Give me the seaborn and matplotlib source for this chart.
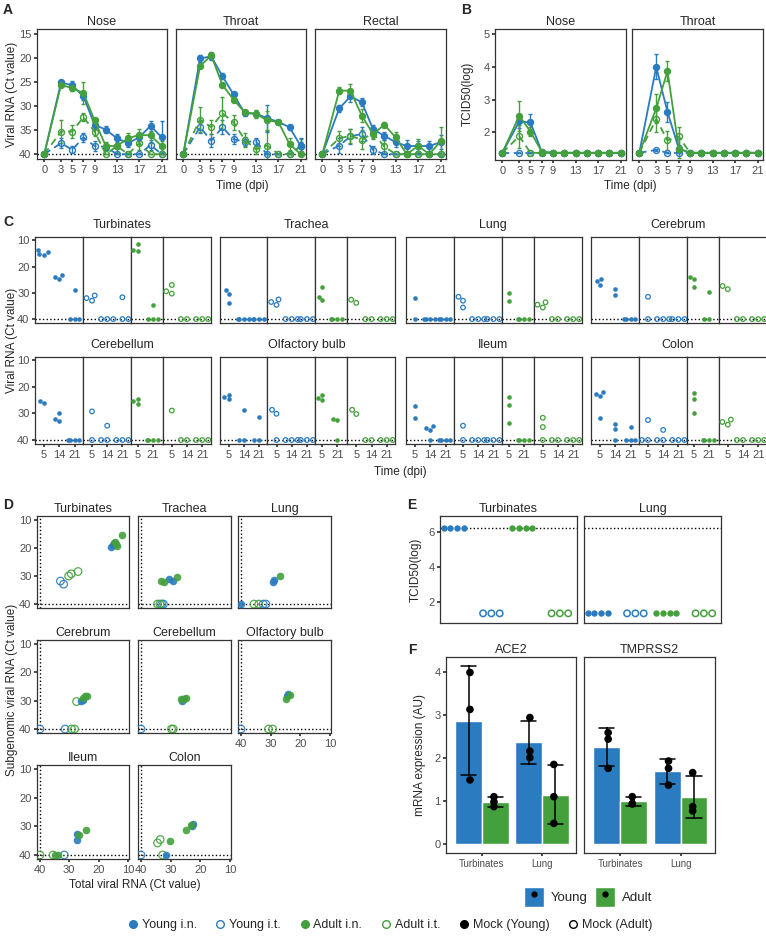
import warnings

import numpy as np
import pandas as pd
import matplotlib
matplotlib.use("Agg")
import matplotlib.pyplot as plt
from matplotlib.lines import Line2D
from matplotlib.patches import Patch
from matplotlib.legend_handler import HandlerTuple
import seaborn as sns

warnings.filterwarnings("ignore")

##################################################################################################
# Data
BLUE = "#2A7BC0"
GREEN = "#44A03C"
GROUPS = ["Young i.n.", "Young i.t.", "Adult i.n.", "Adult i.t."]
GCOL = {"Young i.n.": BLUE, "Young i.t.": BLUE, "Adult i.n.": GREEN, "Adult i.t.": GREEN}

DAYS = [0, 3, 5, 7, 9, 11, 13, 15, 17, 19, 21]
DAY_TICKS = [0, 3, 5, 7, 9, 13, 17, 21]

# A: viral RNA (Ct), mean and SD
nose_ct = {
    "Young i.n.": [40, 25.1, 25.7, 28.0, 33.9, 34.9, 36.7, 37.7, 36.5, 34.1, 36.5],
    "Young i.t.": [40, 37.7, 39.1, 36.5, 38.3, 38.5, 40, 40, 40, 38.1, 40],
    "Adult i.n.": [40, 25.6, 26.3, 27.3, 33.0, 38.3, 38.3, 36.7, 36.0, 36.1, 38.3],
    "Adult i.t.": [40, 35.3, 35.3, 32.3, 35.3, 40, 38.3, 40, 37.7, 40, 40],
}
nose_sd = {
    "Young i.n.": [0, 0.4, 0.8, 0.8, 0.8, 0.8, 0.8, 0.8, 0.8, 1.0, 3.3],
    "Young i.t.": [0, 1.0, 0.7, 1.0, 1.0, 0.7, 0, 0, 0, 1.0, 0],
    "Adult i.n.": [0, 0.3, 0.6, 2.3, 0.6, 0.8, 1.5, 1.2, 1.2, 1.5, 1.0],
    "Adult i.t.": [0, 2.3, 1.3, 0.8, 1.0, 0, 1.5, 0, 1.5, 0, 0],
}
throat_ct = {
    "Young i.n.": [40, 20.1, 19.7, 23.8, 27.6, 31.5, 31.6, 32.5, 33.3, 34.4, 38.3],
    "Young i.t.": [40, 34.4, 37.2, 34.4, 36.9, 37.4, 37.4, 40, 40, 40, 38.4],
    "Adult i.n.": [40, 21.7, 19.5, 25.6, 28.7, 31.3, 31.6, 33.0, 33.3, 37.9, 40],
    "Adult i.t.": [40, 32.8, 34.4, 31.5, 33.4, 37.0, 39.0, 38.2, 40, 40, 38.3],
}
throat_sd = {
    "Young i.n.": [0, 0.8, 0.8, 0.6, 0.6, 0.5, 0.5, 2.8, 0.3, 0.5, 1.6],
    "Young i.t.": [0, 1.3, 1.3, 1.5, 1.0, 1.0, 0.8, 0, 0, 0, 1.0],
    "Adult i.n.": [0, 0.5, 0.8, 0.4, 0.4, 0.5, 0.8, 2.0, 0.3, 1.3, 0],
    "Adult i.t.": [0, 2.5, 1.5, 3.3, 1.5, 1.5, 1.0, 3.0, 0, 0, 1.5],
}
rectal_ct = {
    "Young i.n.": [40, 30.5, 28.0, 29.2, 34.8, 36.2, 37.5, 38.3, 38.3, 38.3, 37.5],
    "Young i.t.": [40, 38.2, 36.3, 35.8, 39.1, 40, 40, 40, 40, 40, 40],
    "Adult i.n.": [40, 26.8, 26.8, 32.0, 35.8, 33.9, 36.5, 40, 38.3, 40, 37.3],
    "Adult i.t.": [40, 36.7, 36.2, 37.0, 35.6, 38.4, 40, 40, 40, 40, 40],
}
rectal_sd = {
    "Young i.n.": [0, 0.7, 1.2, 0.8, 0.8, 0.8, 1.0, 1.2, 1.0, 1.0, 1.5],
    "Young i.t.": [0, 1.5, 1.5, 1.5, 0.8, 0, 0, 0, 0, 0, 0],
    "Adult i.n.": [0, 0.7, 1.3, 1.3, 1.0, 0.5, 1.2, 0, 1.5, 0, 3.0],
    "Adult i.t.": [0, 1.5, 1.5, 2.0, 1.0, 1.3, 0, 0, 0, 0, 0],
}

# B: infectious virus TCID50 (log), mean and SD
B_BASE = 1.37
b_nose = {
    "Young i.n.": [B_BASE, 2.33, 2.30, 1.40] + [B_BASE] * 7,
    "Young i.t.": [B_BASE] * 11,
    "Adult i.n.": [B_BASE, 2.50, 2.02, 1.40] + [B_BASE] * 7,
    "Adult i.t.": [B_BASE, 1.88, B_BASE, B_BASE] + [B_BASE] * 7,
}
b_nose_sd = {
    "Young i.n.": [0, 0.2, 0.25, 0] + [0] * 7,
    "Young i.t.": [0] * 11,
    "Adult i.n.": [0, 0.45, 0.15, 0.05] + [0] * 7,
    "Adult i.t.": [0, 0.35, 0, 0] + [0] * 7,
}
b_throat = {
    "Young i.n.": [B_BASE, 4.0, 2.62, 1.50] + [B_BASE] * 7,
    "Young i.t.": [B_BASE, 1.46, B_BASE, B_BASE] + [B_BASE] * 7,
    "Adult i.n.": [B_BASE, 2.73, 3.87, 1.50] + [B_BASE] * 7,
    "Adult i.t.": [B_BASE, 2.40, 1.75, 1.87] + [B_BASE] * 7,
}
b_throat_sd = {
    "Young i.n.": [0, 0.38, 0.3, 0.1] + [0] * 7,
    "Young i.t.": [0, 0.03, 0, 0] + [0] * 7,
    "Adult i.n.": [0, 0.45, 0.3, 0.3] + [0] * 7,
    "Adult i.t.": [0, 0.4, 0.3, 0.3] + [0] * 7,
}

# C: tissue Ct values per animal, per day
C_DAYS = {"Young i.n.": [5, 14, 21], "Young i.t.": [5, 14, 21],
          "Adult i.n.": [5, 21], "Adult i.t.": [5, 14, 21]}
c_turbinates = {
    "Young i.n.": [[13.8, 14.5, 15.0, 15.4], [23.3, 24.0, 24.8], [29.0, 40, 40, 40]],
    "Young i.t.": [[31.0, 32.0, 33.0], [40, 40, 40], [31.7, 40, 40]],
    "Adult i.n.": [[11.5, 13.5, 14.2], [34.5, 40, 40, 40]],
    "Adult i.t.": [[27.0, 29.4, 30.3], [40, 40], [40, 40, 40]],
}
c_trachea = {
    "Young i.n.": [[29.0, 30.5, 34.0], [40, 40, 40, 40], [40, 40, 40, 40]],
    "Young i.t.": [[32.5, 33.5, 34.6], [40, 40, 40], [40, 40, 40]],
    "Adult i.n.": [[27.8, 31.5, 32.7], [40, 40, 40, 40]],
    "Adult i.t.": [[32.6, 33.8], [40, 40], [40, 40, 40]],
}
c_lung = {
    "Young i.n.": [[32.1, 40], [40, 40, 40, 40], [40, 40, 40, 40]],
    "Young i.t.": [[31.5, 33.0, 35.6], [40, 40, 40], [40, 40, 40]],
    "Adult i.n.": [[30.0, 33.2], [40, 40, 40, 40]],
    "Adult i.t.": [[33.6, 34.5, 35.6], [40, 40], [40, 40, 40]],
}
c_cerebrum = {
    "Young i.n.": [[24.6, 25.6, 26.9], [28.5, 30.9], [40, 40, 40, 40]],
    "Young i.t.": [[31.5, 40], [40, 40, 40], [40, 40, 40]],
    "Adult i.n.": [[23.8, 24.8, 27.8], [29.6, 40, 40]],
    "Adult i.t.": [[27.4, 28.6], [40, 40], [40, 40, 40]],
}
c_cerebellum = {
    "Young i.n.": [[25.2, 26.0], [29.8, 32.0, 33.0], [40, 40, 40, 40]],
    "Young i.t.": [[29.2, 40], [34.6, 40, 40], [40, 40, 40]],
    "Adult i.n.": [[24.6, 25.4, 26.3], [40, 40, 40, 40]],
    "Adult i.t.": [[28.9], [40, 40], [40, 40, 40]],
}
c_olfactory = {
    "Young i.n.": [[22.9, 23.8, 24.6], [28.8, 40, 40], [31.3, 40, 40]],
    "Young i.t.": [[28.6, 30.1, 40], [40, 40, 40], [40, 40, 40]],
    "Adult i.n.": [[23.2, 24.2, 25.0], [32.0, 32.6, 40]],
    "Adult i.t.": [[28.6, 30.2], [40, 40], [40, 40, 40]],
}
c_ileum = {
    "Young i.n.": [[27.3, 31.6], [34.8, 35.5, 36.1, 40], [40, 40, 40, 40]],
    "Young i.t.": [[34.6, 40], [40, 40, 40], [40, 40, 40]],
    "Adult i.n.": [[23.9, 26.7, 33.6], [40, 40, 40, 40]],
    "Adult i.t.": [[31.6, 35.1, 40], [40, 40], [40, 40, 40]],
}
c_colon = {
    "Young i.n.": [[21.9, 22.5, 23.3, 31.7], [34.0, 35.8, 40], [35.1, 40, 40, 40]],
    "Young i.t.": [[32.5, 40, 40], [36.2, 40, 40], [40, 40, 40]],
    "Adult i.n.": [[22.3, 24.4, 29.8], [40, 40, 40, 40]],
    "Adult i.t.": [[32.3, 33.2, 34.2], [40, 40], [40, 40, 40]],
}
C_TISSUES = [("Turbinates", c_turbinates), ("Trachea", c_trachea), ("Lung", c_lung),
             ("Cerebrum", c_cerebrum), ("Cerebellum", c_cerebellum),
             ("Olfactory bulb", c_olfactory), ("Ileum", c_ileum), ("Colon", c_colon)]

# D: (total Ct, subgenomic Ct) per animal
d_turbinates = {
    "Young i.n.": [(15.7, 19.6), (15.0, 19.0), (14.6, 18.4)],
    "Young i.t.": [(33.0, 31.8), (31.9, 32.9)],
    "Adult i.n.": [(14.3, 18.0), (13.8, 19.4), (12.1, 15.3), (14.0, 18.6)],
    "Adult i.t.": [(30.2, 30.0), (29.3, 29.2), (27.0, 28.4)],
}
d_trachea = {
    "Young i.n.": [(30.6, 31.0), (29.2, 31.7)],
    "Young i.t.": [(33.0, 40), (32.4, 40)],
    "Adult i.n.": [(33.2, 31.8), (32.2, 32.3), (27.8, 30.4)],
    "Adult i.t.": [(34.4, 40), (33.6, 40)],
}
d_lung = {
    "Young i.n.": [(40, 40), (29.3, 32.3), (28.9, 31.4)],
    "Young i.t.": [(32.5, 40), (31.6, 40)],
    "Adult i.n.": [(26.8, 29.9)],
    "Adult i.t.": [(35.6, 40), (34.0, 40)],
}
d_cerebrum = {
    "Young i.n.": [(26.0, 30.2), (25.4, 29.6)],
    "Young i.t.": [(40, 40), (31.4, 40)],
    "Adult i.n.": [(24.6, 28.4), (23.8, 28.2), (25.2, 29.0)],
    "Adult i.t.": [(27.5, 30.3), (29.2, 40), (28.2, 40)],
}
d_cerebellum = {
    "Young i.n.": [(26.1, 30.2), (25.8, 29.5)],
    "Young i.t.": [(40, 40)],
    "Adult i.n.": [(26.6, 29.3), (25.5, 29.4), (24.7, 29.0)],
    "Adult i.t.": [(29.7, 40), (29.1, 40)],
}
d_olfactory = {
    "Young i.n.": [(24.5, 28.5), (24.0, 27.8)],
    "Young i.t.": [(40, 40)],
    "Adult i.n.": [(24.8, 29.5), (23.5, 28.0)],
    "Adult i.t.": [(30.7, 40), (29.3, 40)],
}
d_ileum = {
    "Young i.n.": [(27.5, 32.8), (27.5, 34.8)],
    "Young i.t.": [(31.7, 40)],
    "Adult i.n.": [(26.7, 33.0), (24.3, 31.3), (34.9, 40), (33.7, 40)],
    "Adult i.t.": [(40, 40), (35.5, 40)],
}
d_colon = {
    "Young i.n.": [(22.3, 29.1), (22.9, 29.9), (31.6, 40)],
    "Young i.t.": [(40, 40)],
    "Adult i.n.": [(23.2, 29.5), (24.7, 31.3), (30.1, 35.0)],
    "Adult i.t.": [(34.4, 35.8), (33.5, 34.6), (32.7, 40)],
}
D_TISSUES = [("Turbinates", d_turbinates), ("Trachea", d_trachea), ("Lung", d_lung),
             ("Cerebrum", d_cerebrum), ("Cerebellum", d_cerebellum),
             ("Olfactory bulb", d_olfactory), ("Ileum", d_ileum), ("Colon", d_colon)]

# E: tissue TCID50 (log) per animal
E_LIMIT = 6.2
e_turbinates = {"Young i.n.": [6.2] * 4, "Young i.t.": [1.35] * 3,
                "Adult i.n.": [6.2] * 4, "Adult i.t.": [1.35] * 3}
e_lung = {"Young i.n.": [1.35] * 4, "Young i.t.": [1.35] * 3,
          "Adult i.n.": [1.35] * 4, "Adult i.t.": [1.35] * 3}

# F: receptor mRNA expression per animal
f_ace2 = {("Turbinates", "Young"): [4.0, 3.14, 1.5], ("Turbinates", "Adult"): [1.11, 0.99, 0.88],
          ("Lung", "Young"): [2.95, 2.17, 2.02], ("Lung", "Adult"): [1.86, 1.11, 0.49]}
f_tmprss2 = {("Turbinates", "Young"): [2.6, 2.45, 1.77], ("Turbinates", "Adult"): [1.11, 0.95, 0.94],
             ("Lung", "Young"): [1.94, 1.77, 1.38], ("Lung", "Adult"): [1.67, 0.88, 0.78]}

##################################################################################################
# Style and helpers
sns.set_theme(style="ticks")
plt.rcParams["font.family"] = ["Liberation Sans", "DejaVu Sans"]
plt.rcParams.update({
    "axes.edgecolor": "#333333", "axes.linewidth": 0.9,
    "xtick.color": "#333333", "ytick.color": "#333333",
    "xtick.labelcolor": "#4D4D4D", "ytick.labelcolor": "#4D4D4D",
    "xtick.labelsize": 8, "ytick.labelsize": 8,
    "xtick.major.size": 2.5, "ytick.major.size": 2.5,
    "xtick.major.pad": 1.5, "ytick.major.pad": 1.5,
    "axes.titlesize": 9, "axes.titlepad": 3,
})

W, H = 766, 942
fig = plt.figure(figsize=(W / 100, H / 100), dpi=100)


def add_ax(x0, y0, x1, y1):
    return fig.add_axes([x0 / W, 1 - y1 / H, (x1 - x0) / W, (y1 - y0) / H])


def ftext(x, y, s, **kw):
    kw.setdefault("fontsize", 8.5)
    kw.setdefault("ha", "center")
    kw.setdefault("va", "center")
    fig.text(x / W, 1 - y / H, s, **kw)


def hollow(colls, color, lw=0.9):
    for coll in colls:
        coll.set_facecolor("none")
        coll.set_edgecolor(color)
        coll.set_linewidth(lw)


def tidy(ax):
    ax.set_xlabel("")
    ax.set_ylabel("")
    for s in ax.spines.values():
        s.set_visible(True)
        s.set_color("#333333")


def course(ax, means, sds):
    for g in ["Young i.t.", "Adult i.t.", "Young i.n.", "Adult i.n."]:
        c = GCOL[g]
        filled = g.endswith("i.n.")
        ax.errorbar(DAYS, means[g], yerr=sds[g], fmt="none", ecolor=c,
                    elinewidth=1, capsize=1.5, capthick=1, zorder=2)
        sns.lineplot(x=DAYS, y=means[g], ax=ax, color=c, errorbar=None,
                     linewidth=1.3, linestyle="-" if filled else (0, (4, 2.5)),
                     marker="o", markersize=4.3,
                     markerfacecolor=c if filled else "none",
                     markeredgecolor=c, markeredgewidth=1, zorder=3)
    ax.set_xlim(-1.3, 21.95)
    ax.set_xticks(DAY_TICKS)
    tidy(ax)


##################################################################################################
# Panel A
ftext(8, 10, "A", fontweight="bold", fontsize=10)
for (x0, x1), title, m, s in [((37, 167), "Nose", nose_ct, nose_sd),
                              ((176, 306), "Throat", throat_ct, throat_sd),
                              ((315, 446), "Rectal", rectal_ct, rectal_sd)]:
    ax = add_ax(x0, 29, x1, 159)
    ax.axhline(40, ls=":", color="black", lw=1, zorder=1)
    course(ax, m, s)
    ax.set_ylim(41, 14)
    ax.set_yticks([15, 20, 25, 30, 35, 40])
    if title != "Nose":
        ax.tick_params(labelleft=False, left=False)
    ax.set_title(title)
ftext(12, 94, "Viral RNA (Ct value)", rotation=90)
ftext(242, 186, "Time (dpi)")

# Panel B
ftext(466, 10, "B", fontweight="bold", fontsize=10)
for (x0, x1), title, m, s in [((495, 626), "Nose", b_nose, b_nose_sd),
                              ((632, 763), "Throat", b_throat, b_throat_sd)]:
    ax = add_ax(x0, 29, x1, 160)
    course(ax, m, s)
    ax.set_ylim(1.15, 5.16)
    ax.set_yticks([2, 3, 4, 5])
    if title != "Nose":
        ax.tick_params(labelleft=False, left=False)
    ax.set_title(title)
ftext(468, 94, "TCID50(log)", rotation=90)
ftext(630, 186, "Time (dpi)")

##################################################################################################
# Panel C
ftext(8, 222, "C", fontweight="bold", fontsize=10)
C_ROWS = [(237, 323), (357, 444)]
C_X0 = [35, 219.5, 406, 591]
UNIT = 15.2
for k, (name, data) in enumerate(C_TISSUES):
    row, col = divmod(k, 4)
    y0, y1 = C_ROWS[row]
    x = C_X0[col]
    for j, g in enumerate(GROUPS):
        days = C_DAYS[g]
        lo, hi = (-0.6, 2.55) if len(days) == 3 else (-0.45, 1.65)
        w = (hi - lo) * UNIT
        ax = add_ax(x, y0, x + w, y1)
        x += w
        xs = [d for d, vals in zip(days, data[g]) for _ in vals]
        ys = [v for vals in data[g] for v in vals]
        n0 = len(ax.collections)
        sns.swarmplot(x=xs, y=ys, order=days, color=GCOL[g], size=3.3, ax=ax)
        if g.endswith("i.t."):
            hollow(ax.collections[n0:], GCOL[g])
        ax.axhline(40, ls=":", color="black", lw=1, zorder=0)
        ax.set_xlim(lo, hi)
        ax.set_ylim(41.5, 8.7)
        ax.set_yticks([10, 20, 30, 40])
        tidy(ax)
        if not (col == 0 and j == 0):
            ax.tick_params(labelleft=False, left=False)
        if row == 0:
            ax.tick_params(labelbottom=False, bottom=False)
    ftext(C_X0[col] + 87, y0 - 12, name, fontsize=9)
ftext(12, 340, "Viral RNA (Ct value)", rotation=90)
ftext(400, 472, "Time (dpi)")

##################################################################################################
# Panel D
ftext(8, 505, "D", fontweight="bold", fontsize=10)
D_COLS = [(37, 129), (138, 231), (238, 331)]
D_ROWS = [(516, 608), (640, 733), (765, 859)]
for k, (name, data) in enumerate(D_TISSUES):
    row, col = divmod(k, 3)
    (x0, x1), (y0, y1) = D_COLS[col], D_ROWS[row]
    ax = add_ax(x0, y0, x1, y1)
    ax.axhline(40, ls=":", color="black", lw=1, zorder=0)
    ax.axvline(40, ls=":", color="black", lw=1, zorder=0)
    for g in ["Young i.t.", "Adult i.t.", "Young i.n.", "Adult i.n."]:
        pts = data[g]
        n0 = len(ax.collections)
        sns.scatterplot(x=[p[0] for p in pts], y=[p[1] for p in pts], ax=ax,
                        color=GCOL[g], s=30, alpha=0.9, linewidth=0, zorder=3)
        if g.endswith("i.t."):
            hollow(ax.collections[n0:], GCOL[g])
    ax.set_xlim(41, 9.6)
    ax.set_ylim(41.4, 8.6)
    ax.set_xticks([40, 30, 20, 10])
    ax.set_yticks([10, 20, 30, 40])
    tidy(ax)
    if col != 0:
        ax.tick_params(labelleft=False, left=False)
    if not (row == 2 or (row == 1 and col == 2)):
        ax.tick_params(labelbottom=False, bottom=False)
    ax.set_title(name)
ftext(12, 690, "Subgenomic viral RNA (Ct value)", rotation=90)
ftext(135, 885, "Total viral RNA (Ct value)")

##################################################################################################
# Panel E
ftext(412, 505, "E", fontweight="bold", fontsize=10)
for (x0, x1), title, data in [((440, 577), "Turbinates", e_turbinates),
                              ((584, 721), "Lung", e_lung)]:
    ax = add_ax(x0, 516, x1, 623)
    ax.axhline(E_LIMIT, ls=":", color="black", lw=1, zorder=0)
    for g in GROUPS:
        n0 = len(ax.collections)
        sns.swarmplot(x=[g] * len(data[g]), y=data[g], order=GROUPS,
                      color=GCOL[g], size=4.6, ax=ax)
        if g.endswith("i.t."):
            hollow(ax.collections[n0:], GCOL[g], lw=1.1)
    ax.set_xlim(-0.5, 3.5)
    ax.set_ylim(0.8, 6.9)
    ax.set_yticks([2, 4, 6])
    tidy(ax)
    ax.tick_params(labelbottom=False, bottom=False)
    if title != "Turbinates":
        ax.tick_params(labelleft=False, left=False)
    ax.set_title(title)
ftext(416, 570, "TCID50(log)", rotation=90)

##################################################################################################
# Panel F
ftext(412, 650, "F", fontweight="bold", fontsize=10)
for (x0, x1), title, data in [((446, 576), "ACE2", f_ace2), ((584, 715), "TMPRSS2", f_tmprss2)]:
    df = pd.DataFrame([(t, a, v) for (t, a), vals in data.items() for v in vals],
                      columns=["tissue", "age", "value"])
    ax = add_ax(x0, 657, x1, 853)
    sns.barplot(data=df, x="tissue", y="value", hue="age", order=["Turbinates", "Lung"],
                hue_order=["Young", "Adult"], palette=[BLUE, GREEN], saturation=1,
                errorbar="sd", capsize=0.5, width=0.89, gap=0,
                err_kws={"color": "black", "linewidth": 1.1}, legend=False, ax=ax)
    sns.stripplot(data=df, x="tissue", y="value", hue="age", order=["Turbinates", "Lung"],
                  hue_order=["Young", "Adult"], palette=["black", "black"], dodge=True,
                  jitter=False, size=5.5, legend=False, ax=ax, zorder=4)
    ax.set_xlim(-0.6, 1.57)
    ax.set_ylim(-0.2, 4.36)
    ax.set_yticks([0, 1, 2, 3, 4])
    tidy(ax)
    ax.tick_params(axis="x", labelsize=7)
    if title != "ACE2":
        ax.tick_params(labelleft=False, left=False)
    ax.set_title(title)
ftext(420, 755, "mRNA expression (AU)", rotation=90)

dot = dict(marker="o", ls="", color="black", markersize=3.5)
f_handles = [(Patch(facecolor=BLUE), Line2D([], [], **dot)),
             (Patch(facecolor=GREEN), Line2D([], [], **dot))]
fig.legend(f_handles, ["Young", "Adult"],
           handler_map={tuple: HandlerTuple(ndivide=1, pad=0)},
           loc="center", bbox_to_anchor=(588 / W, 1 - 897 / H), ncol=2, frameon=False,
           fontsize=9.5, handlelength=1.5, handleheight=1.9, columnspacing=0.6,
           handletextpad=0.5)

##################################################################################################
# Shared legend
LEG_LABELS = GROUPS + ["Mock (Young)", "Mock (Adult)"]
LEG_COLORS = [BLUE, BLUE, GREEN, GREEN, "black", "black"]
LEG_FILLED = [True, False, True, False, True, False]
handles = [Line2D([], [], marker="o", ls="", color=c, markersize=5.5,
                  markerfacecolor=c if f else "none", markeredgewidth=1)
           for c, f in zip(LEG_COLORS, LEG_FILLED)]
fig.legend(handles, LEG_LABELS, loc="center", bbox_to_anchor=(390 / W, 1 - 925 / H), ncol=6,
           frameon=False, fontsize=9, handlelength=0.8, handletextpad=0.3,
           columnspacing=1.5)

fig.savefig("out.png", dpi=100)
